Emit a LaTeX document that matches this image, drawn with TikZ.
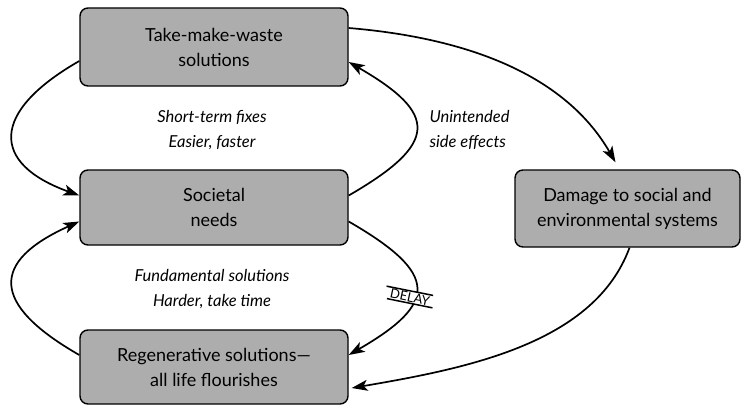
\documentclass[tikz,border=0pt]{standalone}
\usepackage{fontspec}
\setmainfont{Lato}
\usetikzlibrary{arrows.meta}
\tikzset{
	box/.style={draw,line width=1.4pt,rounded corners=8pt,fill=black!32,align=center,inner sep=0pt,font=\fontsize{18}{25}\selectfont},
	lbl/.style={align=center,font=\fontsize{16.5}{25}\selectfont\itshape},
	arr/.style={line width=1.7pt,-{Stealth[length=16pt,width=11pt,inset=4pt]}},
	delaytag/.style={fill=white,inner xsep=2pt,inner ysep=1.5pt,font=\fontsize{13}{13}\selectfont},
}

\begin{document}
\begin{tikzpicture}[x=1pt,y=1pt]
			\useasboundingbox (0,0) rectangle (743,408);
			\node[box,minimum width=268pt,minimum height=78pt] (take) at (214,361) {Take-make-waste\\solutions};
			\node[box,minimum width=268pt,minimum height=75pt] (soc) at (214,200.5) {Societal\\needs};
			\node[box,minimum width=268pt,minimum height=74pt] (regen) at (214,41) {Regenerative solutions—\\all life flourishes};
			\node[box,minimum width=225pt,minimum height=77pt] (damage) at (627.5,199.5) {Damage to social and\\environmental systems};
			\node[lbl] (fixes) at (212,278) {Short-term fixes\\Easier, faster};
			\node[lbl,align=left,anchor=west] (side) at (426,278) {Unintended\\side effects};
			\node[lbl] (fund) at (212,118.5) {Fundamental solutions\\Harder, take time};
			\draw[arr] ([yshift=-14pt]take.west) .. controls +(-89,-51) and +(-89,32) .. ([yshift=12pt]soc.west);
			\draw[arr] ([yshift=12pt]soc.east) .. controls +(90,52) and +(90,-52) .. ([yshift=-15pt]take.east);
			\draw[arr] ([yshift=12pt]regen.west) .. controls +(-89,51) and +(-89,-40) .. ([yshift=-14pt]soc.west);
			\draw[arr] ([yshift=-14pt]soc.east) .. controls +(90,-52) and +(90,52) .. ([yshift=12pt]regen.east);
			\draw[arr] ([yshift=19pt]take.east) .. controls +(120,-10) and +(-50,87) .. ([xshift=-12pt,yshift=7pt]damage.north);
			\draw[arr] ([xshift=2pt]damage.south) .. controls +(-35,-95) and +(118,20) .. ([xshift=3pt,yshift=-21pt]regen.east);
			\node[delaytag,rotate=-12] (delay) at (410,111) {DELAY};
			\draw[line width=1.5pt] ([xshift=-3pt]delay.north west) -- (delay.north east);
			\draw[line width=1.5pt] (delay.south west) -- ([xshift=2pt]delay.south east);
		\end{tikzpicture}
\end{document}
